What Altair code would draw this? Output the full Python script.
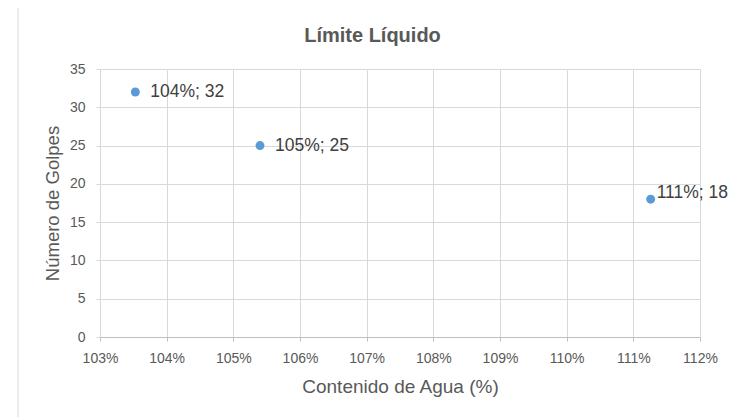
import altair as alt
import pandas as pd

water_content = [103.53, 105.40, 111.26]
blows = [32, 25, 18]
label_dx = [15, 15, 6]
label_dy = [0, 0, -6]
x_ticks = list(range(103, 113))
y_ticks = list(range(0, 36, 5))
chart_title = "Límite Líquido"

df = pd.DataFrame({
    "x": water_content,
    "y": blows,
    "label": [f"{round(x)}%; {y}" for x, y in zip(water_content, blows)],
})

xs = alt.Scale(domain=[103, 112], nice=False, zero=False)
ys = alt.Scale(domain=[0, 35], nice=False)
FONT = "Liberation Sans"

x_enc = alt.X("x:Q", scale=xs, title="Contenido de Agua (%)",
              axis=alt.Axis(values=x_ticks, labelExpr="datum.value + '%'",
                            grid=True, gridColor="#d9d9d9", domainColor="#bfbfbf",
                            tickColor="#bfbfbf", tickSize=4, labelFontSize=14,
                            labelColor="#595959", titleFontSize=19, titleColor="#595959",
                            titleFontWeight="normal", labelPadding=10,
                            labelOverlap=False, labelFlush=False,
                            titleX=300, titleY=55, titleBaseline="alphabetic",
                            titleAlign="center",
                            labelFont=FONT, titleFont=FONT))
y_enc = alt.Y("y:Q", scale=ys, title="Número de Golpes",
              axis=alt.Axis(values=y_ticks, grid=True, gridColor="#d9d9d9",
                            domain=False, tickColor="#d9d9d9", tickSize=4, labelFontSize=14,
                            labelColor="#595959", titleFontSize=18.5, titleColor="#595959",
                            titleFontWeight="normal", labelPadding=11,
                            labelOverlap=False, labelFlush=False,
                            titleX=-48, titleY=134, titleBaseline="middle",
                            titleAlign="center", titleAngle=270,
                            labelFont=FONT, titleFont=FONT))

points = alt.Chart(df).mark_circle(size=80, color="#5b9bd5", opacity=1).encode(x=x_enc, y=y_enc)

layers = [points]
for i in range(len(water_content)):
    t = alt.Chart(df.iloc[[i]]).mark_text(align="left", baseline="middle", dx=label_dx[i],
                                            dy=label_dy[i], fontSize=17.5, color="#404040",
                                            font=FONT).encode(
        x=x_enc, y=y_enc, text="label:N")
    layers.append(t)

base = alt.Chart(pd.DataFrame({"t": [chart_title]}))
title = base.mark_text(fontSize=20, fontWeight="bold", color="#595959", font=FONT,
                       align="center", baseline="alphabetic").encode(
    x=alt.value(272.5), y=alt.value(-27), text="t:N")

border = base.mark_rule(color="#d9d9d9", strokeWidth=1).encode(
    x=alt.value(-82), y=alt.value(-61), y2=alt.value(348))

chart = alt.layer(*layers, title, border).properties(
    width=600, height=268,
    autosize=alt.AutoSizeParams(type="none"),
    padding={"left": 92, "top": 61, "right": 29, "bottom": 80},
).configure_view(stroke=None)

chart.save("out.html", embed_options={"renderer": "svg", "actions": False})
